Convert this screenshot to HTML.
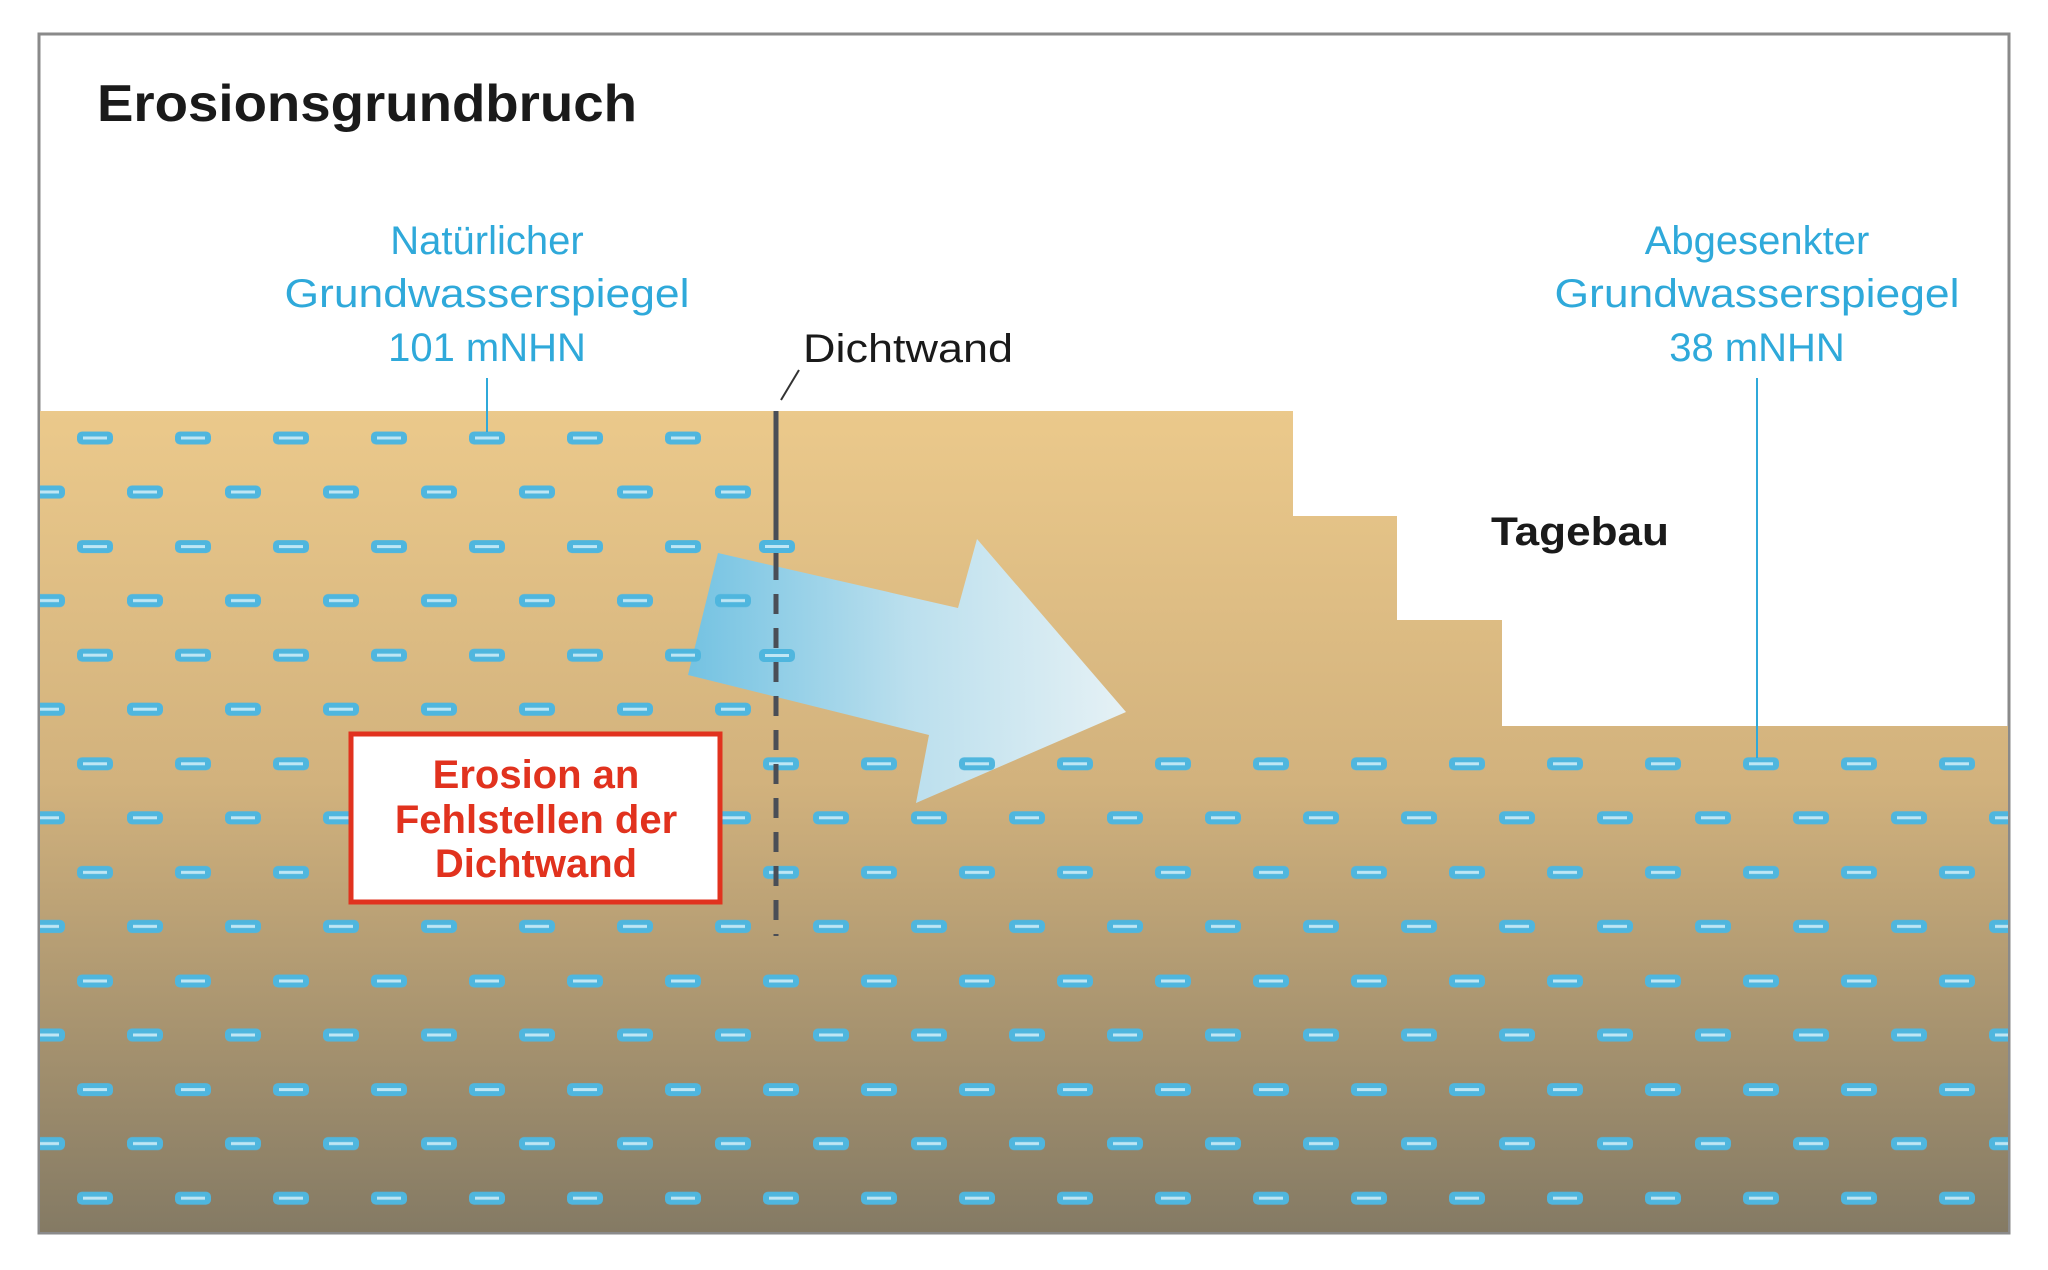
<!DOCTYPE html>
<html><head><meta charset="utf-8"><style>
html,body{margin:0;padding:0;background:#fff;}
svg{display:block}
text{font-family:"Liberation Sans",Arial,sans-serif}
</style></head><body>
<svg width="2048" height="1270" viewBox="0 0 2048 1270" xmlns="http://www.w3.org/2000/svg">
<defs>
<linearGradient id="soil" x1="0" y1="411" x2="0" y2="1233" gradientUnits="userSpaceOnUse">
<stop offset="0" stop-color="#ebc98b"/>
<stop offset="0.45" stop-color="#d2b27d"/>
<stop offset="1" stop-color="#847a64"/>
</linearGradient>
<linearGradient id="arr" x1="690" y1="0" x2="1126" y2="0" gradientUnits="userSpaceOnUse">
<stop offset="0" stop-color="#6fc3e7"/>
<stop offset="0.5" stop-color="#b9e1f3"/>
<stop offset="1" stop-color="#e6f4fb"/>
</linearGradient>
<pattern id="dp" patternUnits="userSpaceOnUse" x="22" y="411" width="98" height="108.6">
<rect x="55" y="20.5" width="36" height="13" rx="5" fill="#4fb6de"/>
<rect x="61" y="25.5" width="24" height="3" fill="#bfe6f4"/>
<rect x="7" y="74.5" width="36" height="13" rx="5" fill="#4fb6de"/>
<rect x="13" y="79.5" width="24" height="3" fill="#bfe6f4"/>
</pattern>
</defs>
<rect x="39" y="34" width="1970" height="1199" fill="#fff" stroke="#8a8a8a" stroke-width="3"/>
<polygon points="40,411 1293,411 1293,516 1397,516 1397,620 1502,620 1502,726 2008,726 2008,1232 40,1232" fill="url(#soil)"/>
<polygon points="718,553 958,608 977,539 1126,712 916,803 929,735 688,675" fill="url(#arr)" opacity="0.95"/>
<rect x="40" y="411" width="718" height="330" fill="url(#dp)"/>
<rect x="40" y="741" width="1968" height="491" fill="url(#dp)"/>
<line x1="776" y1="411" x2="776" y2="560" stroke="#4a4e56" stroke-width="5"/>
<line x1="776" y1="560" x2="776" y2="936" stroke="#4a4e56" stroke-width="5" stroke-dasharray="20 14"/>
<g>
<rect x="759" y="540" width="36" height="13" rx="5" fill="#4fb6de"/><rect x="765" y="545" width="24" height="3" fill="#bfe6f4"/>
<rect x="759" y="649" width="36" height="13" rx="5" fill="#4fb6de"/><rect x="765" y="654" width="24" height="3" fill="#bfe6f4"/>
</g>
<rect x="351" y="734" width="369" height="168" fill="#fff" stroke="#e1321e" stroke-width="5"/>
<g fill="#e1321e" font-weight="bold" font-size="40" text-anchor="middle">
<text x="536" y="788">Erosion an</text>
<text x="536" y="833">Fehlstellen der</text>
<text x="536" y="877">Dichtwand</text>
</g>
<text x="97" y="121" font-size="52" font-weight="bold" fill="#1a1a1a" textLength="540" lengthAdjust="spacingAndGlyphs">Erosionsgrundbruch</text>
<g fill="#2fa9da" font-size="40" text-anchor="middle">
<text x="487" y="254">Natürlicher</text>
<text x="487" y="307" textLength="405" lengthAdjust="spacingAndGlyphs">Grundwasserspiegel</text>
<text x="487" y="361">101 mNHN</text>
<text x="1757" y="254">Abgesenkter</text>
<text x="1757" y="307" textLength="405" lengthAdjust="spacingAndGlyphs">Grundwasserspiegel</text>
<text x="1757" y="361">38 mNHN</text>
</g>
<line x1="487" y1="378" x2="487" y2="432" stroke="#2fa9da" stroke-width="2"/>
<line x1="1757" y1="378" x2="1757" y2="758" stroke="#2fa9da" stroke-width="2"/>
<text x="803" y="362" font-size="40" fill="#1a1a1a" textLength="210" lengthAdjust="spacingAndGlyphs">Dichtwand</text>
<line x1="781" y1="400" x2="799" y2="370" stroke="#333" stroke-width="2"/>
<text x="1491" y="545" font-size="40" font-weight="bold" fill="#1a1a1a" textLength="178" lengthAdjust="spacingAndGlyphs">Tagebau</text>
</svg>
</body></html>
